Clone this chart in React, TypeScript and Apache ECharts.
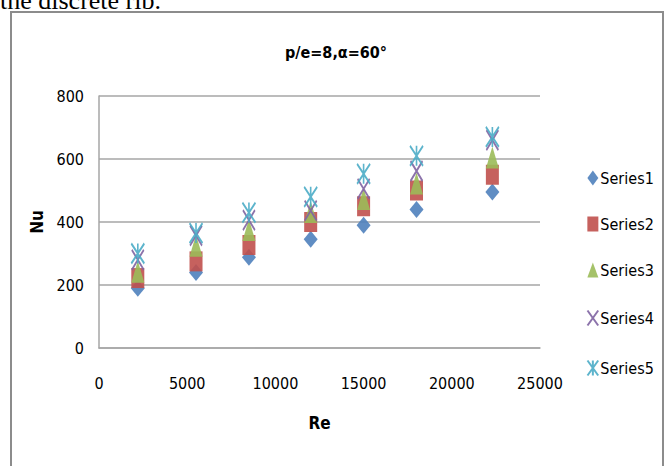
import React, { useEffect, useRef } from "react";
import * as echarts from "echarts";

const reValues = [2200, 5500, 8500, 12000, 15000, 18000, 22300];
const series1 = [190, 240, 288, 345, 390, 440, 495];
const series2 = [222, 275, 327, 400, 450, 500, 550];
const series3 = [242, 325, 375, 432, 473, 522, 605];
const series4 = [280, 357, 406, 436, 505, 562, 660];
const series5 = [300, 365, 430, 480, 553, 610, 670];
const seriesNames = ["Series1", "Series2", "Series3", "Series4", "Series5"];
const xTicks = [0, 5000, 10000, 15000, 20000, 25000];
const yTicks = [0, 200, 400, 600, 800];

const FONT = '"Liberation Sans Narrow", "DejaVu Sans Condensed", "Open Sans", sans-serif';

export default function App() {
  const ref = useRef<HTMLDivElement>(null);
  useEffect(() => {
    if (!ref.current) return;
    const chart = echarts.init(ref.current, null, { renderer: "svg" });
    const pair = (ys: number[]) => reValues.map((x, i) => [x, ys[i]]);
    const all = [series1, series2, series3, series4, series5];
    const colors = ["#4F81BD", "#C0504D", "#9BBB59", "#8064A2", "#4BACC6"];
    const symbols = [
      "diamond",
      "rect",
      "triangle",
      "path://M0,0L10,14M10,0L0,14",
      "path://M0,0L10,14M10,0L0,14M5,0L5,14",
    ];
    const sizes: any[] = [[14, 17], [13, 20], [13, 22], [12, 20], [13, 20]];
    chart.setOption({
      animation: false,
      backgroundColor: "#ffffff",
      title: {
        text: "p/e=8,α=60°",
        left: 331,
        top: 39,
        textAlign: "center",
        textStyle: { fontFamily: FONT, fontSize: 16, fontWeight: "bold", color: "#000" },
      },
      grid: { left: 99, right: 127, top: 96, bottom: 118 },
      legend: {
        orient: "vertical",
        left: 580,
        top: 165,
        itemGap: 30,
        itemWidth: 11,
        itemHeight: 15,
        data: seriesNames,
        textStyle: { fontFamily: FONT, fontSize: 16, color: "#000", padding: [0, 0, 0, -3] },
      },
      xAxis: {
        type: "value",
        min: 0,
        max: 25000,
        interval: 5000,
        name: "Re",
        nameLocation: "middle",
        nameGap: 66,
        nameTextStyle: { fontFamily: FONT, fontSize: 17, fontWeight: "bold", color: "#000" },
        axisLine: { show: true, lineStyle: { color: "#A6A6A6", width: 1.5 } },
        axisTick: { show: false },
        splitLine: { show: false },
        axisLabel: {
          margin: 27,
          fontFamily: FONT,
          fontSize: 16,
          color: "#000",
          formatter: (v: number) => (xTicks.includes(v) ? String(v) : ""),
        },
      },
      yAxis: {
        type: "value",
        min: 0,
        max: 800,
        interval: 200,
        name: "Nu",
        nameLocation: "middle",
        nameGap: 40,
        nameRotate: 90,
        nameTextStyle: { fontFamily: FONT, fontSize: 17, fontWeight: "bold", color: "#000" },
        axisLine: { show: true, lineStyle: { color: "#A6A6A6", width: 1.5 } },
        axisTick: { show: false },
        splitLine: { show: true, lineStyle: { color: "#A6A6A6", width: 1.5 } },
        axisLabel: {
          margin: 15,
          fontFamily: FONT,
          fontSize: 16,
          color: "#000",
          formatter: (v: number) => (yTicks.includes(v) ? String(v) : ""),
        },
      },
      graphic: [
        {
          type: "rect",
          shape: { x: 11, y: 12, width: 652, height: 470 },
          style: { fill: "none", stroke: "#8C8C8C", lineWidth: 2 },
          silent: true,
        },
        {
          type: "text",
          x: 0,
          y: 0,
          style: {
            text: "the discrete rib.",
            font: '26px "Liberation Serif", "DejaVu Serif", serif',
            fill: "#000",
            verticalAlign: "middle",
          },
          silent: true,
        },
      ],
      series: all.map((ys, i) => {
        const isLine = i >= 3;
        return {
          name: seriesNames[i],
          type: "scatter",
          data: pair(ys),
          symbol: symbols[i],
          symbolSize: sizes[i],
          itemStyle: isLine
            ? { color: "none", borderColor: colors[i], borderWidth: 2, opacity: 0.9 }
            : { color: colors[i], opacity: 0.9 },
        };
      }),
    });
    return () => chart.dispose();
  }, []);
  return (
    <div
      ref={ref}
      style={{ position: "absolute", left: 0, top: 0, width: 667, height: 466 }}
    />
  );
}
